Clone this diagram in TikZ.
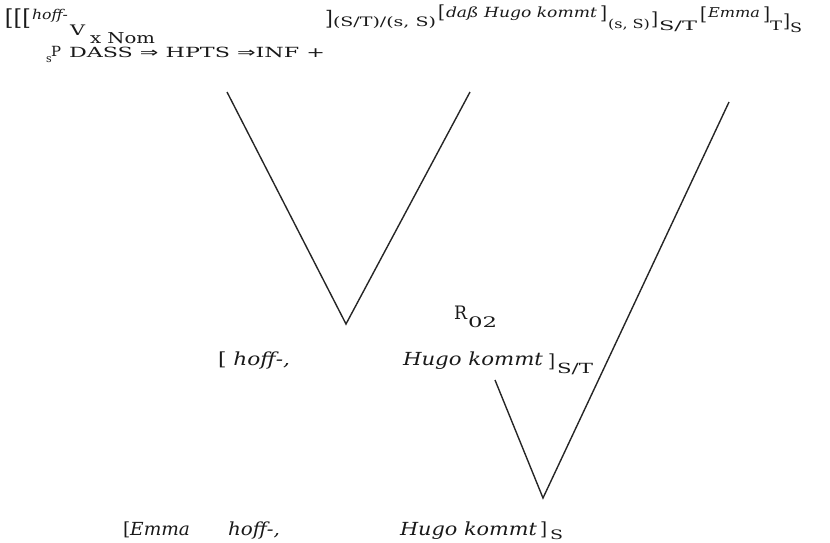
\documentclass[tikz,border=0pt]{standalone}
\usepackage{fontspec}
\usepackage{graphicx}
\setmainfont{DejaVu Serif}
\newfontfamily\symfont{DejaVu Sans}
\tikzset{
  lbl/.style={anchor=base west, inner sep=0pt, outer sep=0pt, text=black!90},
  vline/.style={line width=1.4pt, line join=miter, black!85},
}
\newcommand{\fs}[1]{\fontsize{#1}{#1}\selectfont}
\newcommand{\fw}[3]{\resizebox{#1pt}{\height}{\fs{#2}#3}}
\begin{document}
\begin{tikzpicture}[x=1pt,y=-1pt]
\useasboundingbox (0,0) rectangle (830,542);
% top line
\node[lbl] (t1) at (5,25) {\fw{26}{22}{[[[}};
\node[lbl] (t2) at (32,19) {\fw{36}{13.5}{\itshape hoff-}};
\node[lbl] (t3) at (70,35) {\fw{15}{14.5}{V}};
\node[lbl] (t4) at (90,43) {\fw{65}{15}{x Nom}};
\node[lbl] (t5) at (46,62) {\fs{11}s};
\node[lbl] (t6) at (51,56) {\fw{10}{14}{P}};
\node[lbl] (t7) at (69,57) {\fw{256}{14}{DASS {\symfont ⇒} HPTS {\symfont ⇒}INF +}};
\node[lbl] (t8) at (325,25) {\fs{20}]};
\node[lbl] (t9) at (333,26) {\fw{103}{13}{(S/T)/(s, S)}};
\node[lbl] (t10) at (438,18) {\fs{18}[};
\node[lbl] (t11) at (446,17) {\fw{151}{14}{\itshape daß Hugo kommt}};
\node[lbl] (t12) at (600,19) {\fs{18}]};
\node[lbl] (t13) at (608,28) {\fw{42}{12.5}{(s, S)}};
\node[lbl] (t14) at (651,25) {\fs{18}]};
\node[lbl] (t15) at (659,30) {\fw{38}{13}{S/T}};
\node[lbl] (t16) at (700,20) {\fs{18}[};
\node[lbl] (t17) at (708,17) {\fw{52}{13.5}{\itshape Emma}};
\node[lbl] (t18) at (763,20) {\fs{18}]};
\node[lbl] (t19) at (770,30) {\fw{12}{13}{T}};
\node[lbl] (t20) at (783,27) {\fs{18}]};
\node[lbl] (t21) at (790,32) {\fw{12}{13}{S}};
% middle
\node[lbl] (r) at (454,319) {\fw{13}{18.5}{R}};
\node[lbl] (r2) at (468,327) {\fw{29}{14.5}{02}};
\node[lbl] (m1) at (218,365) {\fw{72}{18}{[ \itshape hoff-,}};
\node[lbl] (m2) at (403,365) {\fw{140}{18}{\itshape Hugo kommt}};
\node[lbl] (m3) at (548,367) {\fs{18}]};
\node[lbl] (m4) at (557,373) {\fw{36}{14}{S/T}};
% bottom
\node[lbl] (b1) at (123,535) {\fw{67}{18}{[\itshape Emma}};
\node[lbl] (b2) at (228,535) {\fw{52}{18}{\itshape hoff-,}};
\node[lbl] (b3) at (400,535) {\fw{137}{18}{\itshape Hugo kommt}};
\node[lbl] (b4) at (540,535) {\fs{18}]};
\node[lbl] (b5) at (550,539) {\fw{13}{13}{S}};
% lines
\coordinate (a1) at (227,92);
\coordinate (a2) at (346,324);
\coordinate (a3) at (470,92);
\coordinate (c1) at (495,380);
\coordinate (c2) at (543,498);
\coordinate (c3) at (729,102);
\draw[vline] (a1) -- (a2) -- (a3);
\draw[vline] (c1) -- (c2) -- (c3);
\end{tikzpicture}
\end{document}
